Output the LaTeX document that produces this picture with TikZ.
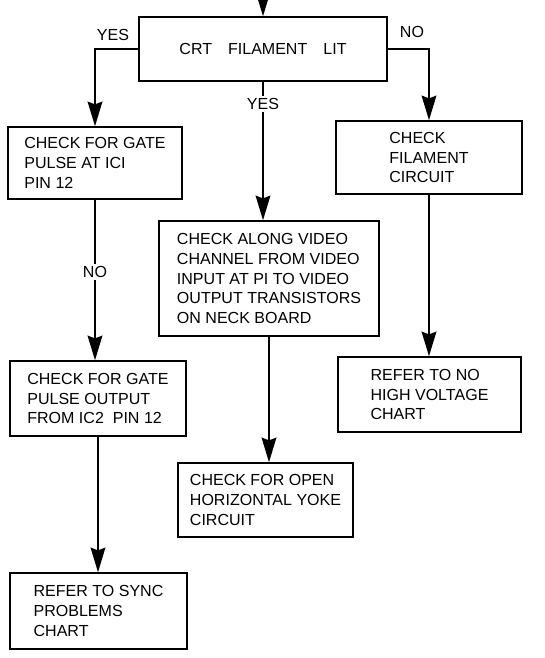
\documentclass[tikz,border=0pt]{standalone}
\usepackage{fontspec}
\setmainfont{Liberation Sans}
\usepackage{tikz}
\usetikzlibrary{arrows.meta}

\begin{document}
\begin{tikzpicture}[x=0.025cm, y=-0.025cm,
  box/.style={draw, line width=1.1pt, align=left, inner sep=0pt,
    font=\fontsize{11.4}{14.2}\selectfont},
  flow/.style={line width=1.1pt, -{Stealth[length=17.5pt, width=10.5pt, inset=2pt]}},
  lbl/.style={font=\fontsize{11.4}{14.2}\selectfont, inner sep=1.5pt}]
  \useasboundingbox (0, 0) rectangle (545, 658);

  % decision at the top
  \coordinate (in) at (263, -12);
  \node[box, minimum width=6.2cm, minimum height=1.6cm] (crt) at (263, 49)
    {CRT\quad FILAMENT\quad LIT};
  \draw[flow] (in) -- (crt.north);

  % left column
  \node[box, minimum width=4.35cm, minimum height=1.8cm] (gate1) at (95, 163)
    {CHECK FOR GATE\\PULSE AT ICI\\PIN 12};
  \node[box, minimum width=4.4cm, minimum height=1.875cm] (gate2) at (98, 398.5)
    {CHECK FOR GATE\\PULSE OUTPUT\\FROM IC2\ \ PIN 12};
  \node[box, minimum width=4.425cm, minimum height=1.9cm] (sync) at (98.5, 611)
    {REFER TO SYNC\\PROBLEMS\\CHART};

  % middle column
  \node[box, minimum width=5.5cm, minimum height=2.875cm] (video) at (269, 278.5)
    {CHECK ALONG VIDEO\\CHANNEL FROM VIDEO\\INPUT AT PI TO VIDEO\\OUTPUT TRANSISTORS\\ON NECK BOARD};
  \node[box, minimum width=4.375cm, minimum height=1.85cm] (yoke) at (265.5, 500)
    {CHECK FOR OPEN\\HORIZONTAL YOKE\\CIRCUIT};

  % right column
  \node[box, minimum width=4.65cm, minimum height=1.825cm] (fil) at (429, 157.5)
    {CHECK\\FILAMENT\\CIRCUIT};
  \node[box, minimum width=4.575cm, minimum height=1.875cm] (hv) at (429.5, 394.5)
    {REFER TO NO\\HIGH VOLTAGE\\CHART};

  % connectors
  \draw[flow] (crt.west) -| (gate1.north);
  \node[lbl] (yes1) at (113, 35) {YES};
  \draw[flow] (crt.east) -| (fil.north);
  \node[lbl] (no1) at (412, 32) {NO};
  \draw[flow] (crt.south) -- (crt.south |- video.north)
    node[lbl, fill=white, pos=0.16] (yes2) {YES};
  \draw[flow] (gate1.south) -- (gate1.south |- gate2.north)
    node[lbl, fill=white, pos=0.45] (no2) {NO};
  \draw[flow] (gate2.south) -- (gate2.south |- sync.north);
  \draw[flow] (video.south) -- (video.south |- yoke.north);
  \draw[flow] (fil.south) -- (fil.south |- hv.north);
\end{tikzpicture}
\end{document}
